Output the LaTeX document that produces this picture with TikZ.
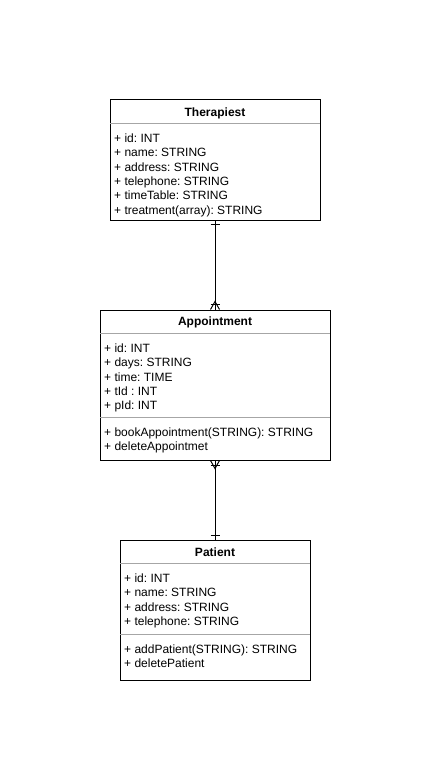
\documentclass[tikz,border=0pt]{standalone}
\usepackage{fontspec}
\setmainfont{Liberation Sans}
\usetikzlibrary{calc}
\definecolor{sepgray}{HTML}{A6A6A6}
\frenchspacing
\begin{document}
\begin{tikzpicture}[x=1pt,y=-1pt,
  umlbox/.style={draw=black, line width=1pt, fill=white, rectangle, inner sep=0pt},
  ctitle/.style={font=\fontsize{12}{14.4}\selectfont\bfseries, inner sep=0pt, anchor=base},
  attr/.style={font=\fontsize{12}{14.4}\selectfont, inner sep=0pt, anchor=base west},
  sepline/.style={draw=sepgray, line width=1pt},
  conn/.style={draw=black, line width=1pt}]
\path[fill=white] (0,0) rectangle (432,781);
\useasboundingbox (0,0) rectangle (432,781);

% Therapiest
\node[umlbox, minimum width=210pt, minimum height=120pt] (ther) at (215,160) {};
\draw[sepline] ($(ther.north west)+(0.5,24)$) -- ($(ther.north east)+(-0.5,24)$);
\node[ctitle] (therT) at (215,116.3) {Therapiest};
\node[attr] (t1) at (114,142.3) {+ id: INT};
\node[attr] (t2) at (114,156.7) {+ name: STRING};
\node[attr] (t3) at (114,171.1) {+ address: STRING};
\node[attr] (t4) at (114,185.5) {+ telephone: STRING};
\node[attr] (t5) at (114,199.9) {+ timeTable: STRING};
\node[attr] (t6) at (114,214.3) {+ treatment(array): STRING};

% Appointment
\node[umlbox, minimum width=230pt, minimum height=150pt] (appt) at (215,385) {};
\draw[sepline] ($(appt.north west)+(0.5,24)$) -- ($(appt.north east)+(-0.5,24)$);
\draw[sepline] ($(appt.north west)+(0.5,108)$) -- ($(appt.north east)+(-0.5,108)$);
\node[ctitle] (apptT) at (215,325.3) {Appointment};
\node[attr] (a1) at (104,352.3) {+ id: INT};
\node[attr] (a2) at (104,366.7) {+ days: STRING};
\node[attr] (a3) at (104,381.1) {+ time: TIME};
\node[attr] (a4) at (104,395.5) {+ tId : INT};
\node[attr] (a5) at (104,409.9) {+ pId: INT};
\node[attr] (a6) at (104,436.3) {+ bookAppointment(STRING): STRING};
\node[attr] (a7) at (104,450.7) {+ deleteAppointmet};

% Patient
\node[umlbox, minimum width=190pt, minimum height=140pt] (pat) at (215,610) {};
\draw[sepline] ($(pat.north west)+(0.5,24)$) -- ($(pat.north east)+(-0.5,24)$);
\draw[sepline] ($(pat.north west)+(0.5,95)$) -- ($(pat.north east)+(-0.5,95)$);
\node[ctitle] (patT) at (215,556.3) {Patient};
\node[attr] (p1) at (124,582.3) {+ id: INT};
\node[attr] (p2) at (124,596.7) {+ name: STRING};
\node[attr] (p3) at (124,611.1) {+ address: STRING};
\node[attr] (p4) at (124,625.5) {+ telephone: STRING};
\node[attr] (p5) at (124,653.3) {+ addPatient(STRING): STRING};
\node[attr] (p6) at (124,667.7) {+ deletePatient};

% Connector Therapiest -- Appointment
\draw[conn] (ther.south) -- (appt.north);
\draw[conn] ($(ther.south)+(-4.5,4)$) -- ($(ther.south)+(4.5,4)$);
\draw[conn] ($(appt.north)+(-4.5,0)$) -- ($(appt.north)+(0,-8)$) -- ($(appt.north)+(4.5,0)$);
\draw[conn] ($(appt.north)+(-4.5,-5)$) -- ($(appt.north)+(4.5,-5)$);

% Connector Appointment -- Patient
\draw[conn] (appt.south) -- (pat.north);
\draw[conn] ($(appt.south)+(-4.5,0)$) -- ($(appt.south)+(0,8)$) -- ($(appt.south)+(4.5,0)$);
\draw[conn] ($(appt.south)+(-4.5,5)$) -- ($(appt.south)+(4.5,5)$);
\draw[conn] ($(pat.north)+(-4.5,-4)$) -- ($(pat.north)+(4.5,-4)$);
\end{tikzpicture}
\end{document}
